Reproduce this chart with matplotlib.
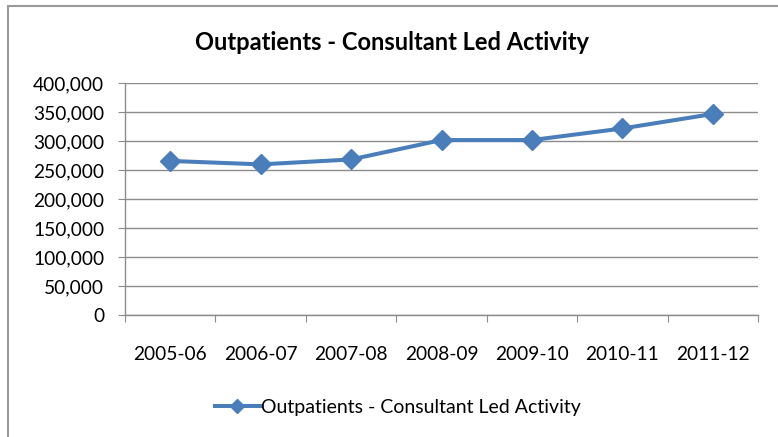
import matplotlib
matplotlib.use("Agg")
import matplotlib.pyplot as plt
from matplotlib.ticker import FuncFormatter, FixedLocator
from matplotlib.patches import Rectangle

# data
years = ["2005-06", "2006-07", "2007-08", "2008-09", "2009-10", "2010-11", "2011-12"]
activity = [266000, 260000, 268500, 302000, 302000, 322000, 347000]
series_name = "Outpatients - Consultant Led Activity"
title = "Outpatients - Consultant Led Activity"

plt.rcParams['font.family'] = ['Lato', 'DejaVu Sans']

fig = plt.figure(figsize=(7.78, 4.37), dpi=100)
ax = fig.add_axes([0.1607, 0.2792, 0.8136, 0.5302])

# chart border (only top/left show in the crop)
fig.patches.append(Rectangle((8 / 778, -0.1), 1.2, (437 - 6.5) / 437 + 0.1,
                             transform=fig.transFigure, fill=False,
                             edgecolor='#999999', linewidth=1.5))

x = list(range(len(years)))
line, = ax.plot(x, activity, color='#4A7EBB', linewidth=2.9, marker='D',
                markersize=10.5, label=series_name, zorder=3)

ax.set_ylim(0, 400000)
ax.set_yticks(range(0, 400001, 50000))
ax.yaxis.set_major_formatter(FuncFormatter(lambda v, p: f"{int(v):,}"))
ax.grid(axis='y', color='#8c8c8c', linewidth=1.0)
ax.set_axisbelow(True)

ax.set_xlim(-0.5, len(years) - 0.5)
ax.xaxis.set_major_locator(FixedLocator([i - 0.5 for i in range(len(years) + 1)]))
ax.xaxis.set_minor_locator(FixedLocator(x))
ax.set_xticklabels([], minor=False)
ax.set_xticklabels(years, minor=True)
ax.tick_params(axis='x', which='major', length=5, color='#8c8c8c', direction='out')
ax.tick_params(axis='x', which='minor', length=0, pad=22.5, labelsize=13.8)
ax.tick_params(axis='y', length=5, color='#8c8c8c', pad=10, labelsize=13.8)

for side in ('top', 'right'):
    ax.spines[side].set_visible(False)
for side in ('left', 'bottom'):
    ax.spines[side].set_color('#8c8c8c')
    ax.spines[side].set_linewidth(1.0)

fig.text(392 / 778, 1 - 43 / 437, title, ha='center', va='center',
         fontsize=17, fontweight='bold')

fig.legend(handles=[line], loc='center', bbox_to_anchor=(398 / 778, 1 - 407 / 437),
           frameon=False, fontsize=14, handlelength=2.3, handletextpad=0.1,
           markerscale=0.7)

fig.savefig("out.png", dpi=100)
